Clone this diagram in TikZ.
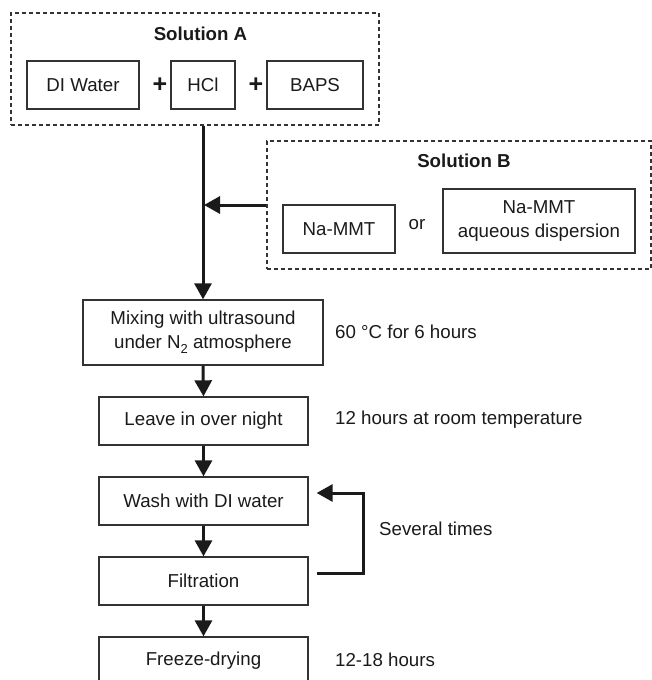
\documentclass[tikz,border=0pt]{standalone}
\usepackage{fontspec}
\setmainfont{Liberation Sans}
\usetikzlibrary{arrows.meta,calc}
\definecolor{ink}{HTML}{1A1A1A}
\definecolor{edge}{HTML}{333333}
\begin{document}
\begin{tikzpicture}[x=1pt,y=-1pt,
  every node/.style={font=\fontsize{18.7pt}{23.5pt}\selectfont, text=ink, inner sep=0pt},
  box/.style={draw=edge, line width=1.3pt, rectangle, align=center},
  dashbox/.style={draw=edge, line width=1.2pt, dash pattern=on 4pt off 3pt, rectangle},
  flow/.style={draw=ink, line width=3pt, -{Triangle[length=16pt,width=17pt]}},
  title/.style={font=\fontsize{18.7pt}{23.5pt}\selectfont\bfseries},
  plus/.style={font=\fontsize{25pt}{25pt}\selectfont\bfseries},
  lbl/.style={anchor=west}]
\useasboundingbox (0,0) rectangle (652,680);
\clip (0,0) rectangle (652,680);
% Solution A
\node[dashbox, minimum width=368pt, minimum height=112pt] (solA) at (195,69) {};
\node[title] (titleA) at (200.5,34) {Solution A};
\node[box, minimum width=112pt, minimum height=48pt] (diw) at (83,85) {DI Water};
\node[plus] (plus1) at (160,85) {+};
\node[box, minimum width=64pt, minimum height=48pt] (hcl) at (203,85) {HCl};
\node[plus] (plus2) at (256,85) {+};
\node[box, minimum width=96pt, minimum height=48pt] (baps) at (315,85) {BAPS};
% Solution B
\node[dashbox, minimum width=384pt, minimum height=128pt] (solB) at (459,205) {};
\node[title] (titleB) at (464,161) {Solution B};
\node[box, minimum width=112pt, minimum height=48pt] (nammt) at (339,229) {Na-MMT};
\node (or) at (417,225) {or};
\node[box, minimum width=192pt, minimum height=64pt] (nammtaq) at (539,221) {Na-MMT\\aqueous dispersion};
% Process
\node[box, minimum width=240pt, minimum height=65pt] (mix) at (203,332.5) {Mixing with ultrasound\\under N\raisebox{-0.3em}{\fontsize{13pt}{13pt}\selectfont 2} atmosphere};
\node[lbl] (t60) at (335,332) {60 °C for 6 hours};
\node[box, minimum width=209pt, minimum height=48pt] (leave) at (203.5,421) {Leave in over night};
\node[lbl] (t12) at (335,420) {12 hours at room temperature};
\node[box, minimum width=209pt, minimum height=48pt] (wash) at (203.5,501) {Wash with DI water};
\node[box, minimum width=209pt, minimum height=48pt] (filt) at (203.5,581) {Filtration};
\node[lbl] (several) at (379,529) {Several times};
\node[box, minimum width=209pt, minimum height=48pt] (freeze) at (203.5,661) {Freeze-drying};
\node[lbl] (t1218) at (335,660) {12-18 hours};
% connectors
\coordinate (topA) at (mix.north |- solA.south);
\coordinate (joinB) at ($(mix.north |- solB.west)+(1,0)$);
\draw[flow] (topA) -- (mix.north);
\draw[flow] (solB.west) -- (joinB);
\draw[flow] (mix.south) -- (leave.north);
\draw[flow] (leave.south) -- (wash.north);
\draw[flow] (wash.south) -- (filt.north);
\draw[flow] (filt.south) -- (freeze.north);
\draw[flow] ([shift={(8pt,8pt)}]filt.east) -- ++(47,0) |- ([shift={(8pt,8pt)}]wash.east);
\end{tikzpicture}
\end{document}
